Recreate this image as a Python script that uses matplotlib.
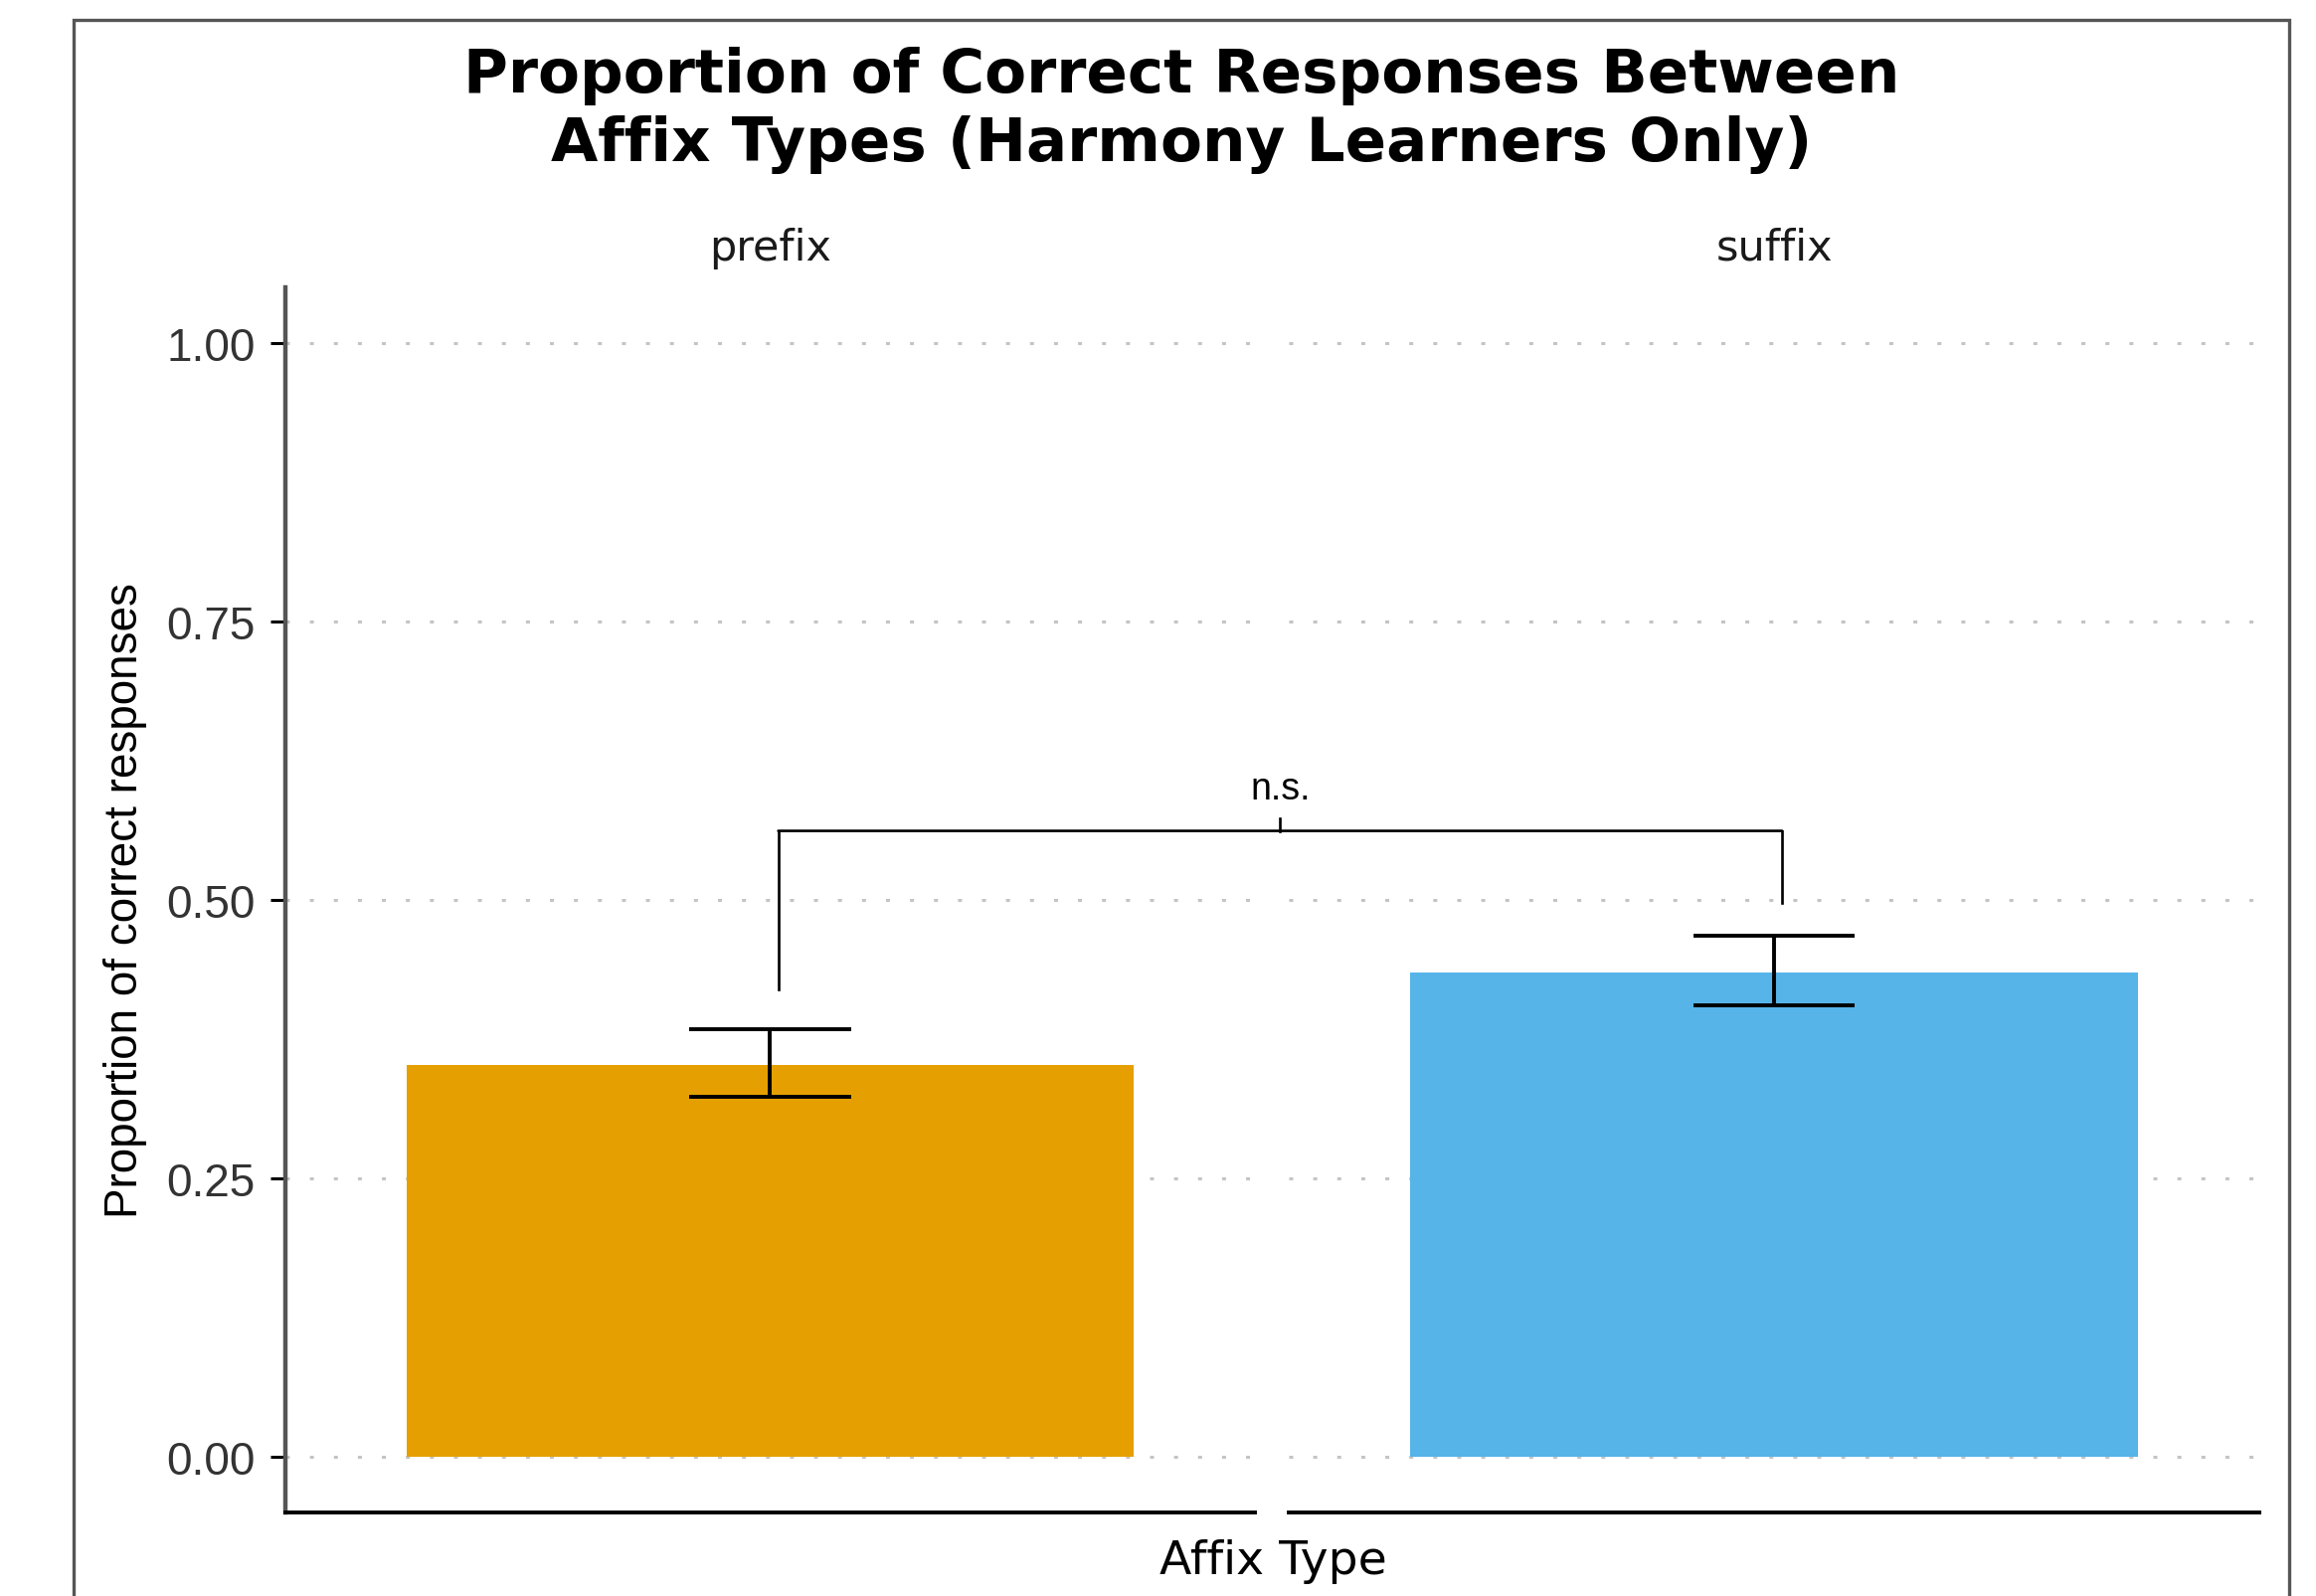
import matplotlib
matplotlib.use("Agg")
import matplotlib.pyplot as plt
from matplotlib.patches import Rectangle, ConnectionPatch
from matplotlib.lines import Line2D

plt.rcParams['font.family'] = ['Liberation Sans', 'DejaVu Sans']
WIDE = ['DejaVu Sans', 'Liberation Sans']

# ---- data ----
affix_types = ["prefix", "suffix"]
proportions = [0.352, 0.435]
err_low = [0.323, 0.405]
err_high = [0.384, 0.468]
bar_colors = ["#E69F00", "#56B4E9"]
y_ticks = [0.00, 0.25, 0.50, 0.75, 1.00]
y_tick_labels = ["0.00", "0.25", "0.50", "0.75", "1.00"]
bracket_bottoms = [0.42, 0.497]
bracket_top = 0.562
sig_label = "n.s."
title_lines = ["Proportion of Correct Responses Between",
               "Affix Types (Harmony Learners Only)"]

W, H = 2329, 1606
fig = plt.figure(figsize=(W / 100, H / 100), dpi=100)

def fx(px):
    return px / W

def fy(py):
    return 1 - py / H

# outer frame
fig.patches.append(Rectangle((fx(74), fy(1700)), fx(2302) - fx(74), fy(21) - fy(1700),
                             transform=fig.transFigure, fill=False,
                             edgecolor="#555555", linewidth=2.4, clip_on=False))

panel_top, panel_bot = 290, 1522
panels = [(287, 1262), (1296, 2272)]
axes = []
for i, (l, r) in enumerate(panels):
    ax = fig.add_axes([fx(l), fy(panel_bot), fx(r) - fx(l), fy(panel_top) - fy(panel_bot)])
    ax.set_xlim(0.4, 1.6)
    ax.set_ylim(-0.05, 1.05)
    for yt in y_ticks:
        ax.axhline(yt, color="#c4c4c4", linewidth=2.2, linestyle=(0, (1.3, 6.6)), zorder=0)
    ax.bar([1], [proportions[i]], width=0.9, color=bar_colors[i], zorder=2)
    ax.errorbar([1], [proportions[i]],
                yerr=[[proportions[i] - err_low[i]], [err_high[i] - proportions[i]]],
                fmt="none", ecolor="black", elinewidth=2.8, capsize=0, zorder=3)
    for yv in (err_low[i], err_high[i]):
        ax.plot([0.9, 1.1], [yv, yv], color="black", linewidth=2.8, zorder=3,
                solid_capstyle="butt")
    ax.set_xticks([])
    for s in ("top", "right"):
        ax.spines[s].set_visible(False)
    ax.spines["bottom"].set_color("black")
    ax.spines["bottom"].set_linewidth(2.8)
    if i == 0:
        ax.spines["left"].set_color("#555555")
        ax.spines["left"].set_linewidth(3.2)
        ax.set_yticks(y_ticks)
        ax.set_yticklabels(y_tick_labels)
        ax.tick_params(axis="y", length=11, width=2.2, color="black",
                       labelsize=33, labelcolor="#333333", pad=11)
    else:
        ax.spines["left"].set_visible(False)
        ax.set_yticks([])
    ax.text(1.0, fy(262), affix_types[i],
            transform=matplotlib.transforms.blended_transform_factory(ax.transData, fig.transFigure),
            ha="center", va="baseline", fontsize=31, color="#1a1a1a", clip_on=False,
            family=WIDE)
    axes.append(ax)

ax1, ax2 = axes
xleg1 = 1.01
xleg2 = 1.01
lw_b = 1.9
ax1.plot([xleg1, xleg1], [bracket_bottoms[0], bracket_top], color="black", linewidth=lw_b,
         clip_on=False, zorder=4)
ax2.plot([xleg2, xleg2], [bracket_bottoms[1], bracket_top], color="black", linewidth=lw_b,
         clip_on=False, zorder=4)
con = ConnectionPatch(xyA=(xleg1, bracket_top), coordsA=ax1.transData,
                      xyB=(xleg2, bracket_top), coordsB=ax2.transData,
                      color="black", linewidth=lw_b, zorder=4)
fig.add_artist(con)
p1 = ax1.transData.transform((xleg1, bracket_top))
p2 = ax2.transData.transform((xleg2, bracket_top))
mid = fig.transFigure.inverted().transform(((p1[0] + p2[0]) / 2, p1[1]))
tick_h = ax1.transData.transform((1, bracket_top + 0.011))[1] - p1[1]
top_pt = fig.transFigure.inverted().transform(((p1[0] + p2[0]) / 2, p1[1] + tick_h))
fig.add_artist(Line2D([mid[0], mid[0]], [mid[1], top_pt[1]], transform=fig.transFigure,
                      color="black", linewidth=lw_b))
fig.text(mid[0], top_pt[1] + fy(0) - fy(12), sig_label, ha="center", va="bottom",
         fontsize=27, color="black")

fig.text(fx(126), fy(906), "Proportion of correct responses", rotation=90,
         ha="center", va="center", fontsize=33, color="black")
fig.text(fx(1280), fy(1571), "Affix Type", ha="center", va="center", fontsize=34,
         color="black", family=WIDE)
for line, base in zip(title_lines, (93, 162)):
    fig.text(fx(1188), fy(base), line, ha="center", va="baseline", fontsize=44,
             fontweight="bold", color="black", family=WIDE)

fig.savefig("out.png", dpi=100)
